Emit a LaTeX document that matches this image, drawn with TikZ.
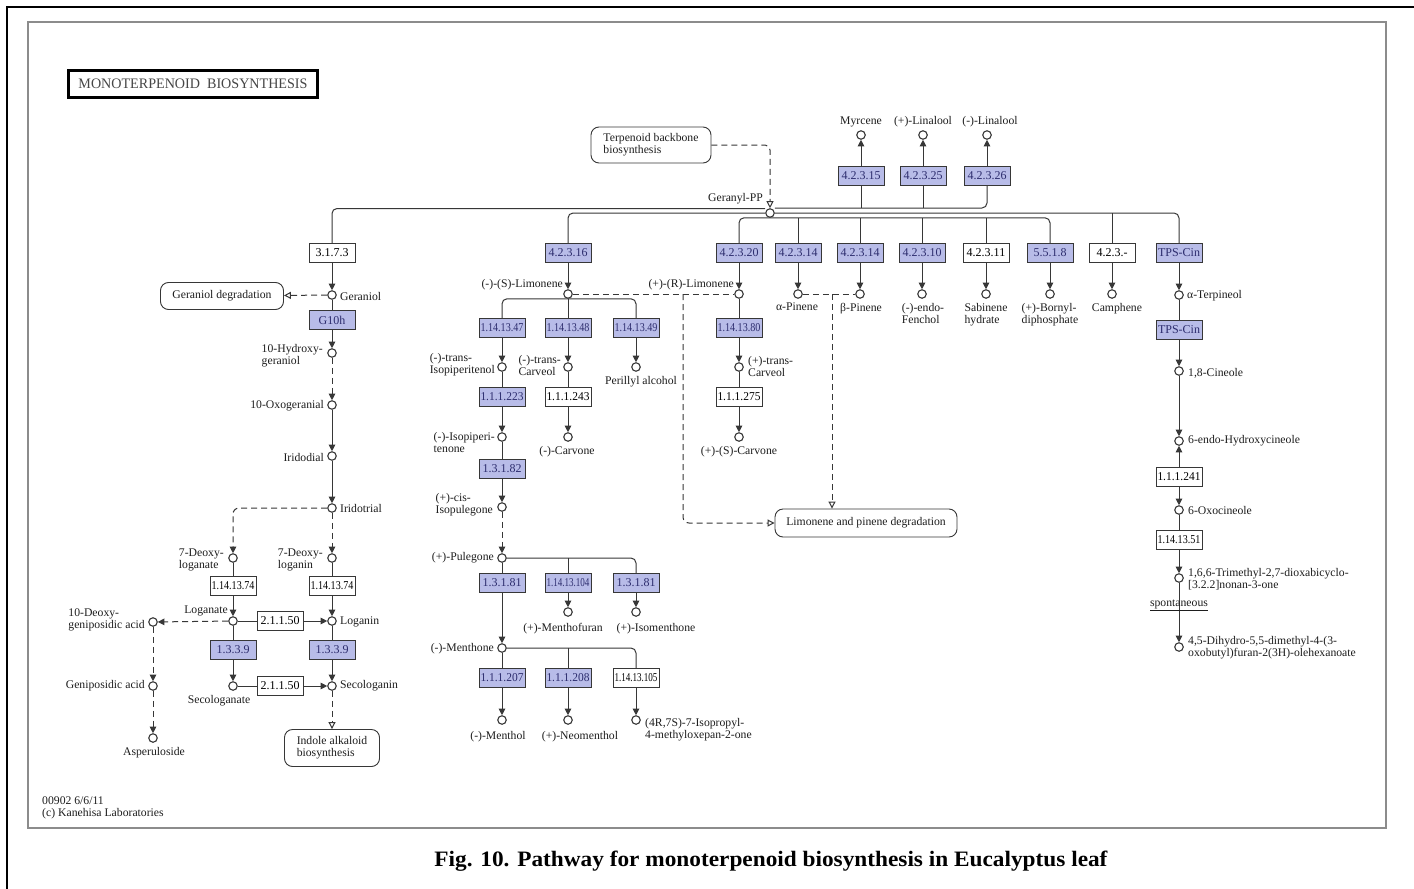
\documentclass[tikz,border=0pt]{standalone}
\usepackage{fontspec}
\setmainfont{Liberation Serif}
\usepackage{graphicx}
\usetikzlibrary{arrows.meta}

\definecolor{lc}{RGB}{55,55,55}
\definecolor{ecfill}{RGB}{184,188,232}
\definecolor{ectxt}{RGB}{45,45,110}
\definecolor{framec}{RGB}{140,140,140}
\definecolor{txtc}{RGB}{30,30,30}
\definecolor{titlec}{RGB}{70,70,70}

\newlength\ecwd
% squeeze long EC numbers so that they fit their box
\newcommand\ec[1]{\settowidth\ecwd{#1}\ifdim\ecwd>43pt\resizebox{43pt}{\height}{#1}\else#1\fi}
\newcommand\lblfont{\fontsize{11.7}{12}\selectfont}
\newcommand\ecfont{\fontsize{12}{12}\selectfont}

\begin{document}
\begin{tikzpicture}[x=1pt,y=-1pt,
  cpd/.style={circle, draw=lc, fill=white, line width=1.1pt, minimum size=8.5pt, inner sep=0pt},
  ecb/.style={draw=lc, line width=0.9pt, minimum width=46pt, minimum height=19pt, inner sep=0pt,
              font=\ecfont, text=ectxt, fill=ecfill},
  ecw/.style={ecb, fill=white, text=black},
  mapb/.style={draw=lc, rounded corners=8pt, line width=0.9pt, font=\lblfont, align=left, text=txtc},
  rl/.style={draw=lc, line width=1pt},
  dl/.style={rl, dash pattern=on 6pt off 4pt},
  arr/.style={-{Triangle[width=6.5pt,length=6.5pt]}},
  oarr/.style={-{Triangle[open,width=7pt,length=7pt,fill=white]}},
  lab/.style={font=\lblfont, inner sep=0pt, align=left, text=txtc},
]
\useasboundingbox (0,0) rectangle (1414,889);
\fill[white] (0,0) rectangle (1414,889);

% page edges and map frame
\draw[black, line width=2.2pt] (7,889) -- (7,7) -- (1414,7);
\draw[framec, line width=1.6pt] (28,22) rectangle (1386,828);

% title and footer
\node[draw=black, line width=2.4pt, minimum width=249pt, minimum height=27pt, inner sep=0pt, text=titlec]
  (title) at (193,84) {\fontsize{14.5}{14}\selectfont\resizebox{229pt}{\height}{MONOTERPENOID\ \ BIOSYNTHESIS}};
\node[lab, anchor=north west] (footer) at (42,797) {00902 6/6/11\\(c) Kanehisa Laboratories};
\node (caption) at (771,861) {\fontsize{22}{24}\selectfont\bfseries\resizebox{673pt}{\height}{Fig. 10. Pathway for monoterpenoid biosynthesis in Eucalyptus leaf}};

% map links
\node[mapb, minimum width=120pt, minimum height=36pt] (terp) at (651,145) {Terpenoid backbone\\biosynthesis};
\node[mapb, minimum width=123pt, minimum height=27pt] (gerdeg) at (222,296) {Geraniol degradation};
\node[mapb, minimum width=182pt, minimum height=28pt] (lpdeg) at (866,523) {Limonene and pinene degradation};
\node[mapb, minimum width=95pt, minimum height=37pt] (indole) at (332,748) {Indole alkaloid\\biosynthesis};

% compounds
\node[cpd] (gpp) at (770,213) {};
\node[cpd] (geraniol) at (332,295) {};
\node[cpd] (hger) at (332,353) {};
\node[cpd] (oxoger) at (332,405) {};
\node[cpd] (iridodial) at (332,456) {};
\node[cpd] (iridotrial) at (332,508) {};
\node[cpd] (dlogn) at (332,558) {};
\node[cpd] (dlogt) at (233,558) {};
\node[cpd] (loganate) at (233,621) {};
\node[cpd] (loganin) at (332,621) {};
\node[cpd] (secot) at (233,686) {};
\node[cpd] (secon) at (332,686) {};
\node[cpd] (dgen) at (153,622) {};
\node[cpd] (gen) at (153,686) {};
\node[cpd] (asper) at (153,738) {};
\node[cpd] (slim) at (568,294) {};
\node[cpd] (rlim) at (739,294) {};
\node[cpd] (apin) at (798,294) {};
\node[cpd] (bpin) at (860,294) {};
\node[cpd] (fench) at (922,294) {};
\node[cpd] (sabh) at (986,294) {};
\node[cpd] (bornyl) at (1050,294) {};
\node[cpd] (camph) at (1112,294) {};
\node[cpd] (aterp) at (1179,295) {};
\node[cpd] (myrc) at (861,135) {};
\node[cpd] (plin) at (923,135) {};
\node[cpd] (mlin) at (987,135) {};
\node[cpd] (isopipol) at (502,367) {};
\node[cpd] (tcarv) at (568,367) {};
\node[cpd] (peril) at (636,367) {};
\node[cpd] (isopipone) at (502,437) {};
\node[cpd] (mcarv) at (568,437) {};
\node[cpd] (ptcarv) at (739,367) {};
\node[cpd] (scarv) at (739,437) {};
\node[cpd] (cisiso) at (502,507) {};
\node[cpd] (pule) at (502,558) {};
\node[cpd] (mfur) at (568,612) {};
\node[cpd] (imen) at (636,612) {};
\node[cpd] (menth) at (502,648) {};
\node[cpd] (menthol) at (502,720) {};
\node[cpd] (neom) at (568,720) {};
\node[cpd] (oxep) at (636,720) {};
\node[cpd] (cin) at (1179,371) {};
\node[cpd] (hcin) at (1179,441) {};
\node[cpd] (ocin) at (1179,510) {};
\node[cpd] (trim) at (1179,578) {};
\node[cpd] (dihy) at (1179,647) {};

% enzymes
\node[ecw] (e3173) at (332,253) {\ec{3.1.7.3}};
\node[ecb] (eg10h) at (332,320) {\ec{G10h}};
\node[ecw] (e74a) at (233,586) {\ec{1.14.13.74}};
\node[ecw] (e74b) at (332,586) {\ec{1.14.13.74}};
\node[ecw] (e2150a) at (280,621) {\ec{2.1.1.50}};
\node[ecw] (e2150b) at (280,686) {\ec{2.1.1.50}};
\node[ecb] (e339a) at (233,650) {\ec{1.3.3.9}};
\node[ecb] (e339b) at (332,650) {\ec{1.3.3.9}};
\node[ecb] (e42316) at (568,253) {\ec{4.2.3.16}};
\node[ecb] (e42320) at (739,253) {\ec{4.2.3.20}};
\node[ecb] (e42314a) at (798,253) {\ec{4.2.3.14}};
\node[ecb] (e42314b) at (860,253) {\ec{4.2.3.14}};
\node[ecb] (e42310) at (922,253) {\ec{4.2.3.10}};
\node[ecw] (e42311) at (986,253) {\ec{4.2.3.11}};
\node[ecb] (e5518) at (1050,253) {\ec{5.5.1.8}};
\node[ecw] (e423x) at (1112,253) {\ec{4.2.3.-}};
\node[ecb] (etps1) at (1179,253) {\ec{TPS-Cin}};
\node[ecb] (etps2) at (1179,330) {\ec{TPS-Cin}};
\node[ecb] (e42315) at (861,176) {\ec{4.2.3.15}};
\node[ecb] (e42325) at (923,176) {\ec{4.2.3.25}};
\node[ecb] (e42326) at (987,176) {\ec{4.2.3.26}};
\node[ecb] (e47) at (502,328) {\ec{1.14.13.47}};
\node[ecb] (e48) at (568,328) {\ec{1.14.13.48}};
\node[ecb] (e49) at (636,328) {\ec{1.14.13.49}};
\node[ecb] (e80) at (739,328) {\ec{1.14.13.80}};
\node[ecb] (e223) at (502,397) {\ec{1.1.1.223}};
\node[ecw] (e243) at (568,397) {\ec{1.1.1.243}};
\node[ecw] (e275) at (739,397) {\ec{1.1.1.275}};
\node[ecb] (e82) at (502,469) {\ec{1.3.1.82}};
\node[ecb] (e81a) at (502,583) {\ec{1.3.1.81}};
\node[ecb] (e104) at (568,583) {\ec{1.14.13.104}};
\node[ecb] (e81b) at (636,583) {\ec{1.3.1.81}};
\node[ecb] (e207) at (502,678) {\ec{1.1.1.207}};
\node[ecb] (e208) at (568,678) {\ec{1.1.1.208}};
\node[ecw] (e105) at (636,678) {\ec{1.14.13.105}};
\node[ecw] (e241) at (1179,477) {\ec{1.1.1.241}};
\node[ecw] (e51) at (1179,540) {\ec{1.14.13.51}};

% compound names
\node[lab,anchor=east] (t-gpp) at (763,199) {Geranyl-PP};
\node[lab,anchor=west] (t-geraniol) at (340,296) {Geraniol};
\node[lab,anchor=east] (t-hger) at (323,356) {10-Hydroxy-\\geraniol};
\node[lab,anchor=east] (t-oxo) at (324,406) {10-Oxogeranial};
\node[lab,anchor=east] (t-iridodial) at (324,457) {Iridodial};
\node[lab,anchor=west] (t-iridotrial) at (340,508) {Iridotrial};
\node[lab,anchor=east] (t-dlogn) at (323,560) {7-Deoxy-\\loganin};
\node[lab,anchor=east] (t-dlogt) at (224,560) {7-Deoxy-\\loganate};
\node[lab,anchor=east] (t-loganate) at (228,611) {Loganate};
\node[lab,anchor=west] (t-loganin) at (340,622) {Loganin};
\node[lab,anchor=east] (t-dgen) at (145,620) {10-Deoxy-\\geniposidic acid};
\node[lab,anchor=east] (t-gen) at (145,686) {Geniposidic acid};
\node[lab,anchor=north] (t-secot) at (219,695) {Secologanate};
\node[lab,anchor=west] (t-secon) at (340,686) {Secologanin};
\node[lab,anchor=north] (t-asper) at (154,747) {Asperuloside};
\node[lab,anchor=east] (t-slim) at (563,285) {(-)-(S)-Limonene};
\node[lab,anchor=east] (t-rlim) at (734,285) {(+)-(R)-Limonene};
\node[lab,anchor=north] (t-apin) at (797,303) {α-Pinene};
\node[lab,anchor=north] (t-bpin) at (861,303) {β-Pinene};
\node[lab,anchor=north] (t-fench) at (923,303) {(-)-endo-\\Fenchol};
\node[lab,anchor=north] (t-sabh) at (986,303) {Sabinene\\hydrate};
\node[lab,anchor=north] (t-bornyl) at (1050,303) {(+)-Bornyl-\\diphosphate};
\node[lab,anchor=north] (t-camph) at (1117,303) {Camphene};
\node[lab,anchor=west] (t-aterp) at (1187,296) {α-Terpineol};
\node[lab,anchor=south] (t-myrc) at (861,127) {Myrcene};
\node[lab,anchor=south] (t-plin) at (923,127) {(+)-Linalool};
\node[lab,anchor=south] (t-mlin) at (990,127) {(-)-Linalool};
\node[lab,anchor=east] (t-isopipol) at (495,365) {(-)-trans-\\Isopiperitenol};
\node[lab,anchor=east] (t-tcarv) at (561,365) {(-)-trans-\\Carveol};
\node[lab,anchor=north] (t-peril) at (641,376) {Perillyl alcohol};
\node[lab,anchor=east] (t-isopipone) at (495,442) {(-)-Isopiperi-\\tenone};
\node[lab,anchor=north] (t-mcarv) at (567,446) {(-)-Carvone};
\node[lab,anchor=west] (t-ptcarv) at (748,366) {(+)-trans-\\Carveol};
\node[lab,anchor=north] (t-scarv) at (739,446) {(+)-(S)-Carvone};
\node[lab,anchor=east] (t-cisiso) at (493,505) {(+)-cis-\\Isopulegone};
\node[lab,anchor=east] (t-pule) at (494,558) {(+)-Pulegone};
\node[lab,anchor=north] (t-mfur) at (563,623) {(+)-Menthofuran};
\node[lab,anchor=north] (t-imen) at (656,623) {(+)-Isomenthone};
\node[lab,anchor=east] (t-menth) at (494,649) {(-)-Menthone};
\node[lab,anchor=north] (t-menthol) at (498,731) {(-)-Menthol};
\node[lab,anchor=north] (t-neom) at (580,731) {(+)-Neomenthol};
\node[lab,anchor=west] (t-oxep) at (645,730) {(4R,7S)-7-Isopropyl-\\4-methyloxepan-2-one};
\node[lab,anchor=west] (t-cin) at (1188,373) {1,8-Cineole};
\node[lab,anchor=west] (t-hcin) at (1188,441) {6-endo-Hydroxycineole};
\node[lab,anchor=west] (t-ocin) at (1188,510) {6-Oxocineole};
\node[lab,anchor=west] (t-trim) at (1188,579) {1,6,6-Trimethyl-2,7-dioxabicyclo-\\{[3.2.2]}nonan-3-one};
\node[lab,anchor=west] (t-dihy) at (1188,648) {4,5-Dihydro-5,5-dimethyl-4-(3-\\oxobutyl)furan-2(3H)-olehexanoate};

% geranyl-PP distribution lines
\coordinate (busU) at (780,208);
\coordinate (busM) at (780,213);
\draw[dl,oarr,rounded corners=5pt] (terp.east) -| (gpp.north);
\draw[rl,rounded corners=5pt] ([yshift=4.5pt]gpp.west) -| (e3173.north);
\draw[rl,rounded corners=5pt] (gpp.west) -| (e42316.north);
\draw[rl,rounded corners=5pt] ([yshift=5pt]gpp.east) -| (e42326.south);
\draw[rl] (e42315.south) -- (e42315.south |- busU);
\draw[rl] (e42325.south) -- (e42325.south |- busU);
\draw[rl,rounded corners=5pt] (gpp.east) -| (etps1.north);
\draw[rl] (e423x.north) -- (e423x.north |- busM);
\draw[rl,rounded corners=5pt] (e42320.north) |- (gpp.south) -| (e5518.north);
\draw[rl] (e42314a.north) -- (e42314a.north |- gpp.south);
\draw[rl] (e42314b.north) -- (e42314b.north |- gpp.south);
\draw[rl] (e42310.north) -- (e42310.north |- gpp.south);
\draw[rl] (e42311.north) -- (e42311.north |- gpp.south);
\draw[rl,arr] (e42315) -- (myrc);
\draw[rl,arr] (e42325) -- (plin);
\draw[rl,arr] (e42326) -- (mlin);
\draw[rl,arr] (e42314a) -- (apin);
\draw[rl,arr] (e42314b) -- (bpin);
\draw[rl,arr] (e42310) -- (fench);
\draw[rl,arr] (e42311) -- (sabh);
\draw[rl,arr] (e5518) -- (bornyl);
\draw[rl,arr] (e423x) -- (camph);

% geraniol / iridoid branch
\draw[rl,arr] (e3173) -- (geraniol);
\draw[dl,oarr] (geraniol) -- (gerdeg);
\draw[rl] (geraniol) -- (eg10h);
\draw[rl,arr] (eg10h) -- (hger);
\draw[dl,arr] (hger) -- (oxoger);
\draw[rl,arr] (oxoger) -- (iridodial);
\draw[rl,arr] (iridodial) -- (iridotrial);
\draw[dl,arr] (iridotrial) -- (dlogn);
\draw[dl,arr,rounded corners=6pt] (iridotrial.west) -| (dlogt.north);
\draw[rl] (dlogt) -- (e74a);
\draw[rl,arr] (e74a) -- (loganate);
\draw[rl] (dlogn) -- (e74b);
\draw[rl,arr] (e74b) -- (loganin);
\draw[rl] (loganate) -- (e2150a);
\draw[rl,arr] (e2150a) -- (loganin);
\draw[rl] (loganate) -- (e339a);
\draw[rl,arr] (e339a) -- (secot);
\draw[rl] (loganin) -- (e339b);
\draw[rl,arr] (e339b) -- (secon);
\draw[rl] (secot) -- (e2150b);
\draw[rl,arr] (e2150b) -- (secon);
\draw[dl,oarr] (secon) -- (indole);
\draw[dl,arr] (loganate) -- (dgen);
\draw[dl,arr] (dgen) -- (gen);
\draw[dl,arr] (gen) -- (asper);

% limonene branches
\draw[rl,arr] (e42316) -- (slim);
\draw[rl,rounded corners=5pt] (slim.south) -| (e47.north);
\draw[rl] (slim) -- (e48);
\draw[rl,rounded corners=5pt] (slim.south) -| (e49.north);
\draw[rl,arr] (e47) -- (isopipol);
\draw[rl] (isopipol) -- (e223);
\draw[rl,arr] (e223) -- (isopipone);
\draw[rl] (isopipone) -- (e82);
\draw[rl,arr] (e82) -- (cisiso);
\draw[dl,arr] (cisiso) -- (pule);
\draw[rl,arr] (e48) -- (tcarv);
\draw[rl] (tcarv) -- (e243);
\draw[rl,arr] (e243) -- (mcarv);
\draw[rl,arr] (e49) -- (peril);
\draw[rl,arr] (e42320) -- (rlim);
\draw[rl] (rlim) -- (e80);
\draw[rl,arr] (e80) -- (ptcarv);
\draw[rl] (ptcarv) -- (e275);
\draw[rl,arr] (e275) -- (scarv);

% degradation links
\coordinate (lj) at (683,294);
\coordinate (pj) at (832,294);
\draw[dl] (slim) -- (rlim);
\draw[dl,oarr,rounded corners=6pt] (lj) |- (lpdeg.west);
\draw[dl] (apin) -- (bpin);
\draw[dl,oarr] (pj) -- (pj |- lpdeg.north);

% pulegone and menthone
\draw[rl] (pule) -- (e81a);
\draw[rl,arr] (e81a) -- (menth);
\draw[rl,rounded corners=5pt] (pule.east) -| (e81b.north);
\draw[rl] (e104.north |- pule.east) -- (e104.north);
\draw[rl,arr] (e104) -- (mfur);
\draw[rl,arr] (e81b) -- (imen);
\draw[rl] (menth) -- (e207);
\draw[rl,arr] (e207) -- (menthol);
\draw[rl,rounded corners=5pt] (menth.east) -| (e105.north);
\draw[rl] (e208.north |- menth.east) -- (e208.north);
\draw[rl,arr] (e208) -- (neom);
\draw[rl,arr] (e105) -- (oxep);

% cineole branch
\draw[rl,arr] (etps1) -- (aterp);
\draw[rl] (aterp) -- (etps2);
\draw[rl,arr] (etps2) -- (cin);
\draw[rl,arr] (cin) -- (hcin);
\draw[rl,arr] (e241) -- (hcin);
\draw[rl,arr] (e241) -- (ocin);
\draw[rl] (ocin) -- (e51);
\draw[rl,arr] (e51) -- (trim);
\draw[rl,arr] (trim) -- (dihy);
\node[lab] (spont) at (1179,605) {\underline{spontaneous}};
\end{tikzpicture}
\end{document}
